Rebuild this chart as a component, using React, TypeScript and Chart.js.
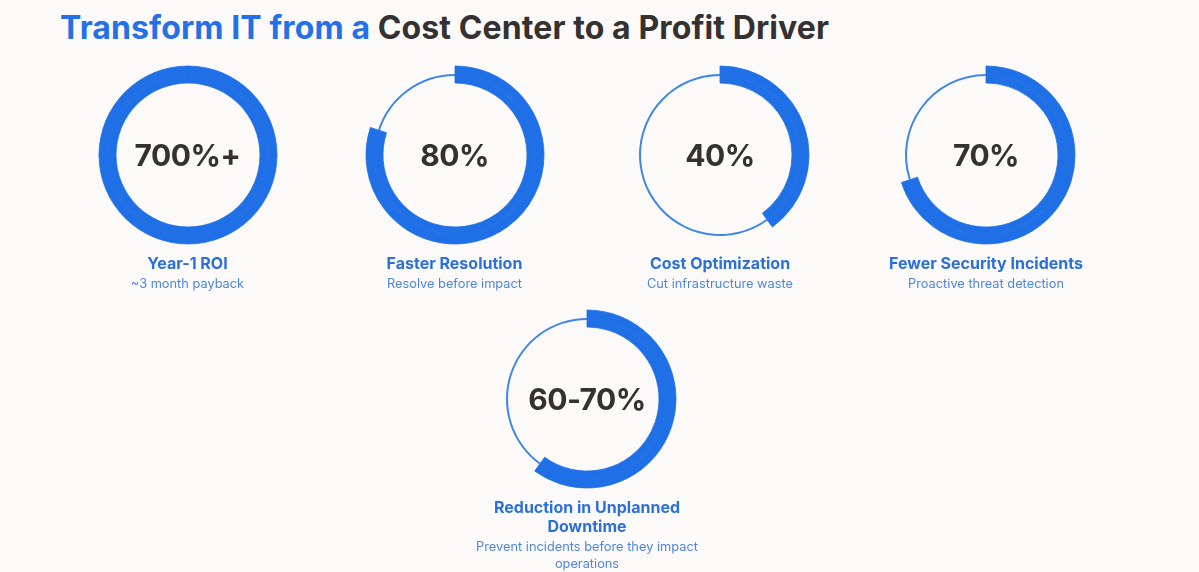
import React, { useEffect, useRef } from "react";
import { Chart, registerables } from "chart.js";

Chart.register(...registerables);

// ---- data ----
const metricValues = [100, 80, 40, 70, 60];
const metricCenterLabels = ["700%+", "80%", "40%", "70%", "60-70%"];
const metricTitles: string[][] = [
  ["Year-1 ROI"],
  ["Faster Resolution"],
  ["Cost Optimization"],
  ["Fewer Security Incidents"],
  ["Reduction in Unplanned", "Downtime"],
];
const metricSubtitles: string[][] = [
  ["~3 month payback"],
  ["Resolve before impact"],
  ["Cut infrastructure waste"],
  ["Proactive threat detection"],
  ["Prevent incidents before they impact", "operations"],
];
const titleBlue = "Transform IT from a";
const titleDark = "Cost Center to a Profit Driver";

// ---- layout / style ----
const BG = "#fcfaf9";
const BLUE = "#1f6fe6";
const THIN = "#3f86ea";
const DARK = "#353131";
const FONT = "Inter, 'Open Sans', sans-serif";
const CENTERS: [number, number][] = [
  [187.5, 155],
  [454.5, 155],
  [720, 155],
  [986, 155],
  [587, 398.5],
];
const OUTER = 89;
const INNER = 72;
const CANVAS = 200;

function Ring({ value }: { value: number }) {
  const ref = useRef<HTMLCanvasElement | null>(null);
  useEffect(() => {
    if (!ref.current) return;
    const rest = 100 - value;
    const seg = (thinColor: string) => ({
      data: [value, rest],
      backgroundColor: [BLUE, thinColor],
      borderColor: [BLUE, "rgba(0,0,0,0)"],
      borderWidth: 0.8,
    });
    const chart = new Chart(ref.current, {
      type: "doughnut",
      data: {
        labels: ["achieved", "remaining"],
        datasets: [
          { ...seg("rgba(0,0,0,0)"), weight: 8 },
          { ...seg(THIN), weight: 2 },
          { ...seg("rgba(0,0,0,0)"), weight: 7 },
        ],
      },
      options: {
        animation: false,
        responsive: false,
        maintainAspectRatio: false,
        events: [],
        radius: OUTER,
        cutout: `${(INNER / OUTER) * 100}%`,
        layout: { padding: 0 },
        plugins: { legend: { display: false }, tooltip: { enabled: false } },
      },
    });
    return () => chart.destroy();
  }, [value]);
  return <canvas ref={ref} width={CANVAS} height={CANVAS} style={{ width: CANVAS, height: CANVAS }} />;
}

export default function App() {
  return (
    <div
      style={{
        position: "fixed",
        left: 0,
        top: 0,
        width: 1199,
        height: 572,
        background: BG,
        fontFamily: FONT,
        overflow: "hidden",
      }}
    >
      <div
        style={{
          position: "absolute",
          left: 60,
          top: 9,
          fontSize: 32,
          fontWeight: 700,
          lineHeight: "38px",
          whiteSpace: "nowrap",
          letterSpacing: 0.1,
        }}
      >
        <span style={{ color: "#2470e6" }}>{titleBlue}</span>{" "}
        <span style={{ color: DARK }}>{titleDark}</span>
      </div>
      {metricValues.map((v, i) => {
        const [cx, cy] = CENTERS[i];
        const titleTop = cy + 109;
        return (
          <React.Fragment key={i}>
            <div style={{ position: "absolute", left: cx - CANVAS / 2, top: cy - CANVAS / 2, width: CANVAS, height: CANVAS }}>
              <Ring value={v} />
            </div>
            <div
              style={{
                position: "absolute",
                left: cx - 150,
                width: 300,
                top: cy - 20,
                height: 40,
                lineHeight: "40px",
                textAlign: "center",
                fontSize: 30,
                fontWeight: 700,
                color: DARK,
                letterSpacing: -0.5,
              }}
            >
              {metricCenterLabels[i]}
            </div>
            <div
              style={{
                position: "absolute",
                left: cx - 150,
                width: 300,
                top: titleTop - 10,
                textAlign: "center",
              }}
            >
              {metricTitles[i].map((t, k) => (
                <div key={k} style={{ fontSize: 16, fontWeight: 700, color: "#2b6fdc", lineHeight: "19px" }}>
                  {t}
                </div>
              ))}
              {metricSubtitles[i].map((t, k) => (
                <div key={k} style={{ fontSize: 12.8, fontWeight: 400, color: "#4f86db", lineHeight: "17px", marginTop: k === 0 ? 2 : 0 }}>
                  {t}
                </div>
              ))}
            </div>
          </React.Fragment>
        );
      })}
    </div>
  );
}
